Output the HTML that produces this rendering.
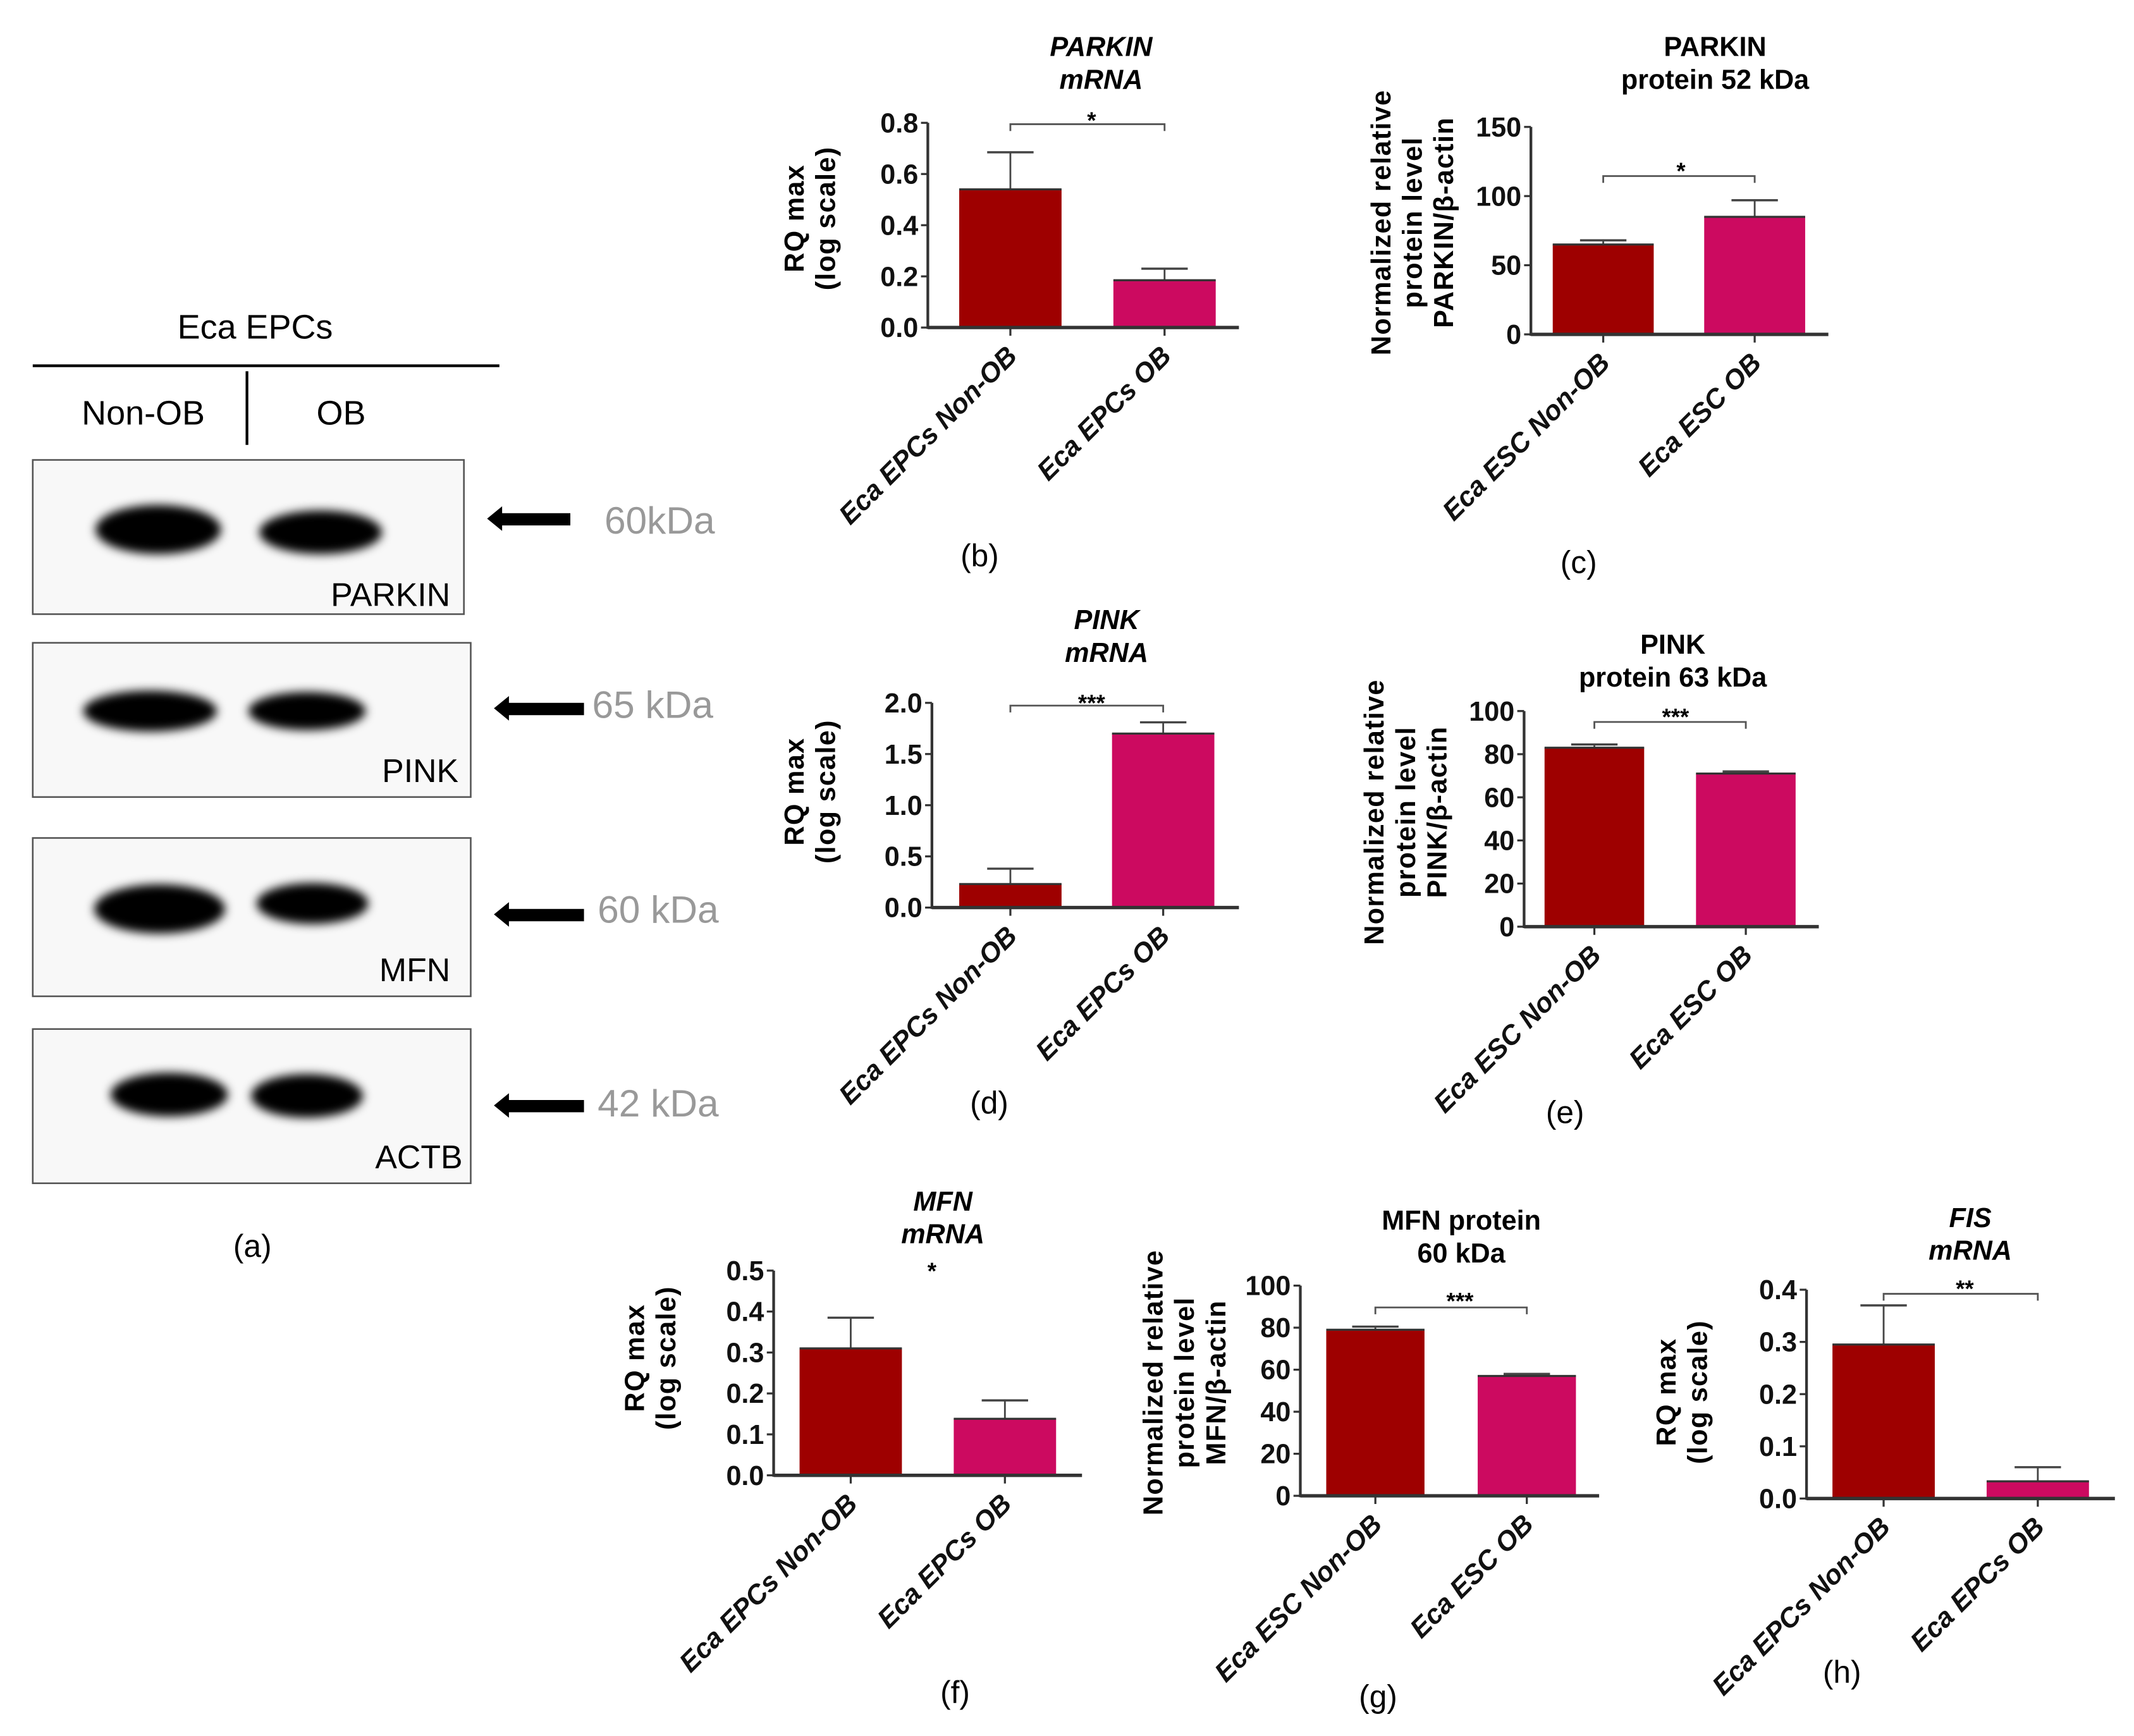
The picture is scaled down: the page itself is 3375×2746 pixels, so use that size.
<!DOCTYPE html>
<html><head><meta charset="utf-8">
<style>
html,body{margin:0;padding:0;background:#fff;}
svg{display:block;}
text{font-family:"Liberation Sans",sans-serif;}
.n{font-family:"Liberation Sans Narrow","Liberation Sans",sans-serif;}
</style></head>
<body>
<svg id="fig" xmlns="http://www.w3.org/2000/svg" width="3375" height="2746" viewBox="0 0 1564 1272" preserveAspectRatio="none">
<defs>
<filter id="blur" x="-30%" y="-60%" width="160%" height="220%"><feGaussianBlur stdDeviation="3.5"/></filter>
</defs>
<rect width="1564" height="1272" fill="#fff"/>
<g>
<text x="187" y="248" font-size="25" text-anchor="middle">Eca  EPCs</text>
<line x1="24" y1="268" x2="366" y2="268" stroke="#000" stroke-width="2"/>
<text x="105" y="311" font-size="25" text-anchor="middle">Non-OB</text>
<text x="250" y="311" font-size="25" text-anchor="middle">OB</text>
<line x1="181" y1="272" x2="181" y2="326" stroke="#000" stroke-width="2"/>

<g>
<rect x="24" y="337" width="316" height="113" fill="#f8f8f8" stroke="#555" stroke-width="1.2"/>
<ellipse cx="116" cy="388" rx="46" ry="18" fill="#000" filter="url(#blur)"/>
<ellipse cx="235" cy="390" rx="45" ry="16" fill="#000" filter="url(#blur)"/>
<text x="330" y="444" font-size="24" text-anchor="end">PARKIN</text>
</g>
<g>
<rect x="24" y="471" width="321" height="113" fill="#f8f8f8" stroke="#555" stroke-width="1.2"/>
<ellipse cx="110" cy="521" rx="49" ry="15" fill="#000" filter="url(#blur)"/>
<ellipse cx="225" cy="521" rx="43" ry="14" fill="#000" filter="url(#blur)"/>
<text x="336" y="573" font-size="24" text-anchor="end">PINK</text>
</g>
<g>
<rect x="24" y="614" width="321" height="116" fill="#f8f8f8" stroke="#555" stroke-width="1.2"/>
<ellipse cx="117" cy="666" rx="48" ry="18" fill="#000" filter="url(#blur)"/>
<ellipse cx="229" cy="662" rx="41" ry="15" fill="#000" filter="url(#blur)"/>
<text x="330" y="719" font-size="24" text-anchor="end">MFN</text>
</g>
<g>
<rect x="24" y="754" width="321" height="113" fill="#f8f8f8" stroke="#555" stroke-width="1.2"/>
<ellipse cx="124" cy="802" rx="43" ry="16" fill="#000" filter="url(#blur)"/>
<ellipse cx="225" cy="803" rx="41" ry="16" fill="#000" filter="url(#blur)"/>
<text x="339" y="856" font-size="24" text-anchor="end">ACTB</text>
</g>

<g fill="#000">
<polygon points="357,380 368,371 368,376 418,376 418,385 368,385 368,389"/>
<text x="443" y="391" font-size="28" fill="#999">60kDa</text>
<polygon points="362,519 373,510 373,515 428,515 428,524 373,524 373,528"/>
<text x="434" y="526" font-size="28" fill="#999">65 kDa</text>
<polygon points="362,670 373,661 373,666 428,666 428,675 373,675 373,679"/>
<text x="438" y="676" font-size="28" fill="#999">60 kDa</text>
<polygon points="362,810 373,801 373,806 428,806 428,815 373,815 373,819"/>
<text x="438" y="818" font-size="28" fill="#999">42 kDa</text>
</g>
<text x="185" y="921" font-size="23" text-anchor="middle">(a)</text>
</g>
<g id="charts"></g>
</svg>
<script>
const catsEPC = ["Eca EPCs Non-OB", "Eca EPCs OB"];
const catsESC = ["Eca ESC Non-OB", "Eca ESC OB"];

const bMeans = [0.54, 0.185];
const bErr = [0.685, 0.23];
const bTicks = ["0.0", "0.2", "0.4", "0.6", "0.8"];
const bTickVals = [0, 0.2, 0.4, 0.6, 0.8];
const bSig = "*";

const cMeans = [65, 85];
const cErr = [68, 97];
const cTicks = ["0", "50", "100", "150"];
const cTickVals = [0, 50, 100, 150];
const cSig = "*";

const dMeans = [0.23, 1.7];
const dErr = [0.38, 1.81];
const dTicks = ["0.0", "0.5", "1.0", "1.5", "2.0"];
const dTickVals = [0, 0.5, 1.0, 1.5, 2.0];
const dSig = "***";

const eMeans = [83, 71];
const eErr = [84.5, 72];
const eTicks = ["0", "20", "40", "60", "80", "100"];
const eTickVals = [0, 20, 40, 60, 80, 100];
const eSig = "***";

const fMeans = [0.31, 0.138];
const fErr = [0.385, 0.183];
const fTicks = ["0.0", "0.1", "0.2", "0.3", "0.4", "0.5"];
const fTickVals = [0, 0.1, 0.2, 0.3, 0.4, 0.5];
const fSig = "*";

const gMeans = [79, 57];
const gErr = [80.5, 58];
const gTicks = ["0", "20", "40", "60", "80", "100"];
const gTickVals = [0, 20, 40, 60, 80, 100];
const gSig = "***";

const hMeans = [0.295, 0.033];
const hErr = [0.37, 0.06];
const hTicks = ["0.0", "0.1", "0.2", "0.3", "0.4"];
const hTickVals = [0, 0.1, 0.2, 0.3, 0.4];
const hSig = "**";

const colors = ["#9e0000", "#cc0a60"];
const NS = "http://www.w3.org/2000/svg";
const root = document.getElementById("charts");

function mk(tag, attrs, parent, txt) {
  const e = document.createElementNS(NS, tag);
  for (const k in attrs) e.setAttribute(k, attrs[k]);
  if (txt !== undefined) e.textContent = txt;
  parent.appendChild(e);
  return e;
}

function chart(L, cats, means, errs, ticks, tickVals, sig) {
  const g = mk("g", {}, root);
  
  
  const vmax = tickVals[tickVals.length - 1];
  const y = v => L.y0 - (v / vmax) * (L.y0 - L.yTop);
  const bx = i => L.bx[i];
  means.forEach((m, i) => {
    const eb = mk("line", {x1: bx(i) + L.bw/2, x2: bx(i) + L.bw/2, y1: y(m), y2: y(errs[i]), stroke: "#444", "stroke-width": 1.3}, g);
    
    
    mk("line", {x1: bx(i) + L.bw/2 - 17, x2: bx(i) + L.bw/2 + 17, y1: y(errs[i]), y2: y(errs[i]), stroke: "#444", "stroke-width": 1.6}, g);
    const r = mk("rect", {x: bx(i), y: y(m), width: L.bw, height: L.y0 - y(m), fill: colors[i]}, g);
    
    
    mk("line", {x1: bx(i), x2: bx(i) + L.bw, y1: y(m), y2: y(m), stroke: "#333", "stroke-width": 1.5}, g);
  });
  const ya = mk("line", {x1: L.ax, x2: L.ax, y1: L.yTop, y2: L.y0 + 1, stroke: "#333", "stroke-width": 2}, g);
  
  
  const xa = mk("line", {x1: L.ax, x2: L.xEnd, y1: L.y0, y2: L.y0, stroke: "#333", "stroke-width": 2.5}, g);
  
  
  tickVals.forEach((v, i) => {
    mk("line", {x1: L.ax - 5, x2: L.ax, y1: y(v), y2: y(v), stroke: "#333", "stroke-width": 1.5}, g);
    const t = mk("text", {x: L.ax - 7, y: y(v) + 7, "font-size": 20, "font-weight": "bold", "text-anchor": "end", class: "n", fill: "#111"}, g, ticks[i]);
    
    
  });
  cats.forEach((c, i) => {
    const cx = bx(i) + L.bw/2;
    mk("line", {x1: cx, x2: cx, y1: L.y0, y2: L.y0 + 6, stroke: "#333", "stroke-width": 1.5}, g);
    const t = mk("text", {x: cx + 6, y: L.y0 + 22, "font-size": 20, "font-weight": "bold", "font-style": "italic", "text-anchor": "end", class: "n", fill: "#111", transform: "rotate(-45 " + (cx + 6) + " " + (L.y0 + 22) + ")"}, g, c);
    
    
  });
  if (L.sigLine) {
    const x1 = bx(0) + L.bw/2, x2 = bx(1) + L.bw/2;
    const sl = mk("path", {d: "M" + x1 + " " + (L.sigY + 5) + "V" + L.sigY + "H" + x2 + "V" + (L.sigY + 5), fill: "none", stroke: "#555", "stroke-width": 1.3}, g);
    
    
  }
  const st = mk("text", {x: L.sigX, y: L.sigTY, "font-size": 17, "font-weight": "bold", "text-anchor": "middle", class: "n"}, g, sig);
  
  
  L.title.forEach((tl, i) => {
    const t = mk("text", {x: L.tx, y: L.ty + i * 24, "font-size": 20, "font-weight": "bold", "font-style": L.italic ? "italic" : "normal", "text-anchor": "middle", class: "n"}, g, tl);
    
    
  });
  L.ytitle.forEach((tl, i) => {
    const xx = L.ytx + i * 23;
    const t = mk("text", {x: xx, y: L.ytc, "font-size": 20, "font-weight": "bold", "text-anchor": "middle", "letter-spacing": "0.6", transform: "rotate(-90 " + xx + " " + L.ytc + ")"}, g, tl);
    
    
  });
  const pl = mk("text", {x: L.px, y: L.py, "font-size": 23, "text-anchor": "middle"}, g, "(" + L.id + ")");
  
  
}

const rq = ["RQ max", "(log scale)"];
chart({id: "b", ax: 680, xEnd: 908, y0: 240, yTop: 90, bx: [703, 816], bw: 75, sigLine: true, sigY: 91, sigX: 800, sigTY: 94, title: ["PARKIN", "mRNA"], italic: true, tx: 807, ty: 41, ytitle: rq, ytx: 589, ytc: 160, px: 718, py: 415},
  catsEPC, bMeans, bErr, bTicks, bTickVals, bSig);
chart({id: "c", ax: 1122, xEnd: 1340, y0: 245, yTop: 93, bx: [1138, 1249], bw: 74, sigLine: true, sigY: 129, sigX: 1232, sigTY: 131, title: ["PARKIN", "protein 52 kDa"], italic: false, tx: 1257, ty: 41, ytitle: ["Normalized relative", "protein level", "PARKIN/β-actin"], ytx: 1019, ytc: 163, px: 1157, py: 420},
  catsESC, cMeans, cErr, cTicks, cTickVals, cSig);
chart({id: "d", ax: 683, xEnd: 908, y0: 665, yTop: 515, bx: [703, 815], bw: 75, sigLine: true, sigY: 517, sigX: 800, sigTY: 521, title: ["PINK", "mRNA"], italic: true, tx: 811, ty: 461, ytitle: rq, ytx: 589, ytc: 580, px: 725, py: 816},
  catsEPC, dMeans, dErr, dTicks, dTickVals, dSig);
chart({id: "e", ax: 1117, xEnd: 1333, y0: 679, yTop: 521, bx: [1132, 1243], bw: 73, sigLine: true, sigY: 529, sigX: 1228, sigTY: 531, title: ["PINK", "protein 63 kDa"], italic: false, tx: 1226, ty: 479, ytitle: ["Normalized relative", "protein level", "PINK/β-actin"], ytx: 1014, ytc: 595, px: 1147, py: 823},
  catsESC, eMeans, eErr, eTicks, eTickVals, eSig);
chart({id: "f", ax: 567, xEnd: 793, y0: 1081, yTop: 931, bx: [586, 699], bw: 75, sigLine: false, sigY: 0, sigX: 683, sigTY: 937, title: ["MFN", "mRNA"], italic: true, tx: 691, ty: 887, ytitle: rq, ytx: 472, ytc: 995, px: 700, py: 1248},
  catsEPC, fMeans, fErr, fTicks, fTickVals, fSig);
chart({id: "g", ax: 953, xEnd: 1172, y0: 1096, yTop: 942, bx: [972, 1083], bw: 72, sigLine: true, sigY: 958, sigX: 1070, sigTY: 959, title: ["MFN protein", "60 kDa"], italic: false, tx: 1071, ty: 901, ytitle: ["Normalized relative", "protein level", "MFN/β-actin"], ytx: 852, ytc: 1013, px: 1010, py: 1251},
  catsESC, gMeans, gErr, gTicks, gTickVals, gSig);
chart({id: "h", ax: 1324, xEnd: 1550, y0: 1098, yTop: 945, bx: [1343, 1456], bw: 75, sigLine: true, sigY: 948, sigX: 1440, sigTY: 950, title: ["FIS", "mRNA"], italic: true, tx: 1444, ty: 899, ytitle: rq, ytx: 1228, ytc: 1020, px: 1350, py: 1233},
  catsEPC, hMeans, hErr, hTicks, hTickVals, hSig);
</script>
</body></html>
